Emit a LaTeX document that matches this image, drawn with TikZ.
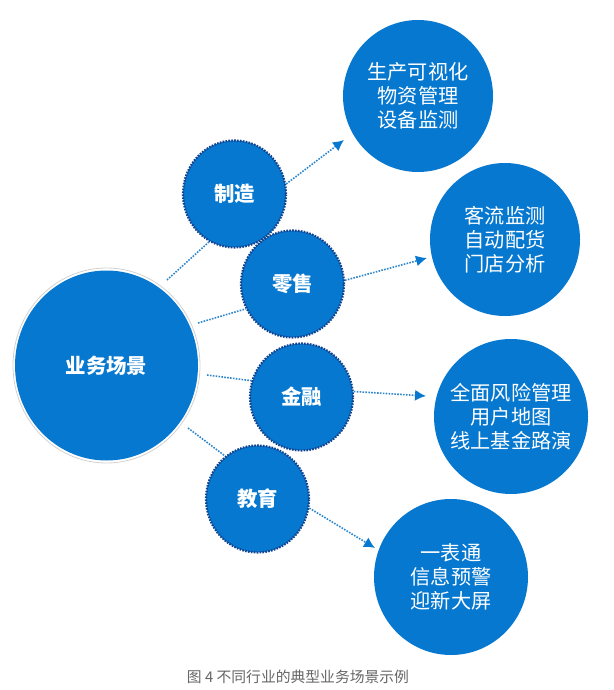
\documentclass[tikz,border=0pt]{standalone}
\usepackage{fontspec}
\usetikzlibrary{arrows.meta,shapes.geometric}
\newfontfamily\cjk{Noto Sans CJK SC}
\definecolor{cblue}{HTML}{0678CF}
\definecolor{ldark}{HTML}{14408C}
\definecolor{lconn}{HTML}{2E86CC}
\tikzset{
  big/.style={ellipse,fill=cblue,inner sep=-15pt,text=white,align=center,font=\cjk\fontsize{20.2pt}{24.2pt}\selectfont},
  mainc/.style={big,font=\cjk\bfseries\fontsize{20.4pt}{24.2pt}\selectfont},
  ring/.style={ellipse,draw=black!18,line width=0.8pt,inner sep=0pt},
  mid/.style={ellipse,fill=cblue,draw=ldark,line width=2.2pt,dash pattern=on 1.6pt off 1.3pt,inner sep=0pt,text=white,minimum width=103pt,minimum height=107pt,font=\cjk\bfseries\fontsize{20.4pt}{24pt}\selectfont},
  conn/.style={draw=lconn,line width=1.6pt,dash pattern=on 1.6pt off 1.3pt},
  arr/.style={conn,-{Latex[length=11pt,width=11pt,color=cblue]}}
}
\begin{document}
\begin{tikzpicture}[x=1pt,y=-1pt]
\useasboundingbox (0,0) rectangle (613,690);
\coordinate (a1) at (344,140);
\coordinate (a2) at (427,258);
\coordinate (a3) at (426,396);
\coordinate (a4) at (375,548);
\coordinate (s1) at (167,280);
\coordinate (s2) at (198,323);
\coordinate (s3) at (207,375);
\coordinate (s4) at (188,428);
\node[big,minimum width=150pt,minimum height=152pt] (r1) at (418,96) {生产可视化\\物资管理\\设备监测};
\node[big,minimum width=150pt,minimum height=153pt] (r2) at (505,239.5) {客流监测\\自动配货\\门店分析};
\node[big,minimum width=154pt,minimum height=155pt] (r3) at (511,416.5) {全面风险管理\\用户地图\\线上基金路演};
\node[big,minimum width=154pt,minimum height=156pt] (r4) at (451,577) {一表通\\信息预警\\迎新大屏};
\node[ring,minimum width=187pt,minimum height=195pt] (halo) at (106.5,365.5) {};
\node[mainc,minimum width=183pt,minimum height=190pt] (main) at (106.5,365.5) {业务场景};
\node[mid] (m1) at (234.5,194) {制造};
\node[mid] (m2) at (292.5,284) {零售};
\node[mid] (m3) at (301.5,397) {金融};
\node[mid] (m4) at (257.5,499) {教育};
\draw[conn] (s1) -- (m1.242);
\draw[conn] (s2) -- (m2.208);
\draw[conn] (s3) -- (m3.162);
\draw[conn] (s4) -- (m4.127);
\draw[arr] (m1.11) -- (a1);
\draw[arr] (m2.4) -- (a2);
\draw[arr] (m3.6) -- (a3);
\draw[arr] (m4.-10) -- (a4);
\node[text=black!60,font=\cjk\fontsize{14.8pt}{16pt}\selectfont] (cap) at (298,677) {图 4 不同行业的典型业务场景示例};
\end{tikzpicture}
\end{document}
